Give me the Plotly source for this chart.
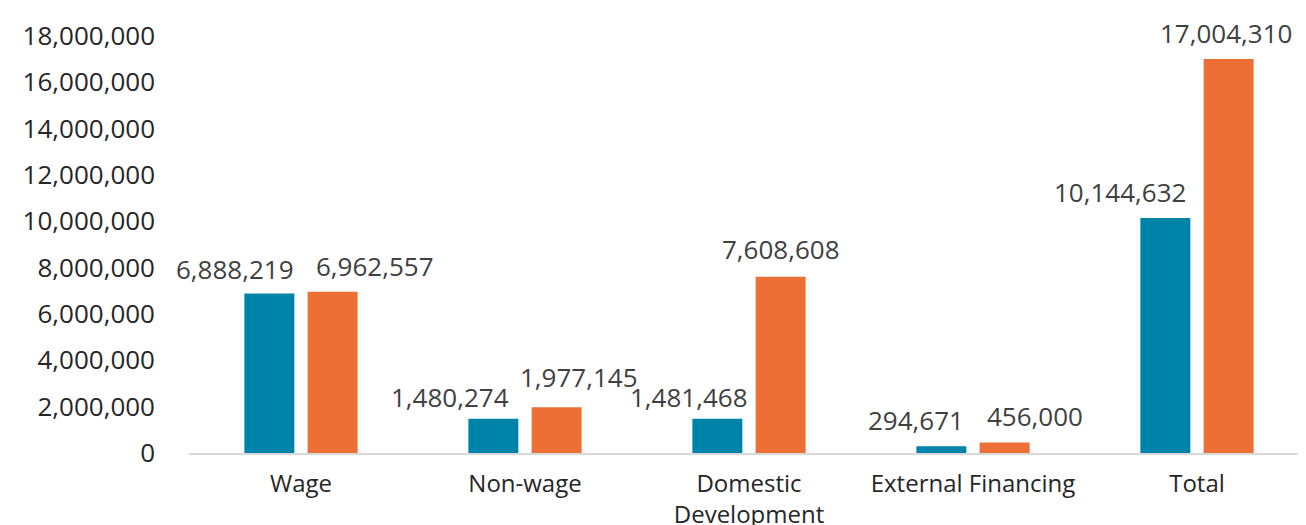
import plotly.graph_objects as go

categories = ["Wage", "Non-wage", "Domestic<br>Development", "External Financing", "Total"]
series_a = [6888219, 1480274, 1481468, 294671, 10144632]
series_b = [6962557, 1977145, 7608608, 456000, 17004310]
y_ticks = [0, 2000000, 4000000, 6000000, 8000000, 10000000, 12000000, 14000000, 16000000, 18000000]

TEAL = "#0083A9"
ORANGE = "#EC7035"
FONT = "Open Sans"

# label horizontal nudges (px) relative to each bar's centre, and vertical gaps
bar_off = 31.7
shift_a = [-34, -43, -28, -25, -45]
shift_b = [42, 22, 0, 30, -3]
gap_a = [4, 2, 2, 6, 6]
gap_b = [6, 10, 8, 6, 6]

fig = go.Figure()
fig.add_trace(go.Bar(x=categories, y=series_a, marker=dict(color=TEAL, line=dict(width=0)), name="A"))
fig.add_trace(go.Bar(x=categories, y=series_b, marker=dict(color=ORANGE, line=dict(width=0)), name="B"))

for i, c in enumerate(categories):
    fig.add_annotation(x=c, y=series_a[i], text=f"{series_a[i]:,}", showarrow=False,
                       xanchor="center", yanchor="bottom", xshift=-bar_off + shift_a[i], yshift=gap_a[i],
                       font=dict(family=FONT, size=26, color="#404040"))
    fig.add_annotation(x=c, y=series_b[i], text=f"{series_b[i]:,}", showarrow=False,
                       xanchor="center", yanchor="bottom", xshift=bar_off + shift_b[i], yshift=gap_b[i],
                       font=dict(family=FONT, size=26, color="#404040"))

fig.update_layout(
    width=1306, height=525,
    margin=dict(l=181, r=5, t=28, b=80),
    paper_bgcolor="white", plot_bgcolor="white",
    barmode="group", bargap=0.435, bargroupgap=0.21,
    showlegend=False,
    font=dict(family=FONT, size=25, color="#262626"),
    xaxis=dict(range=[-0.5, 4.5], showline=True, linecolor="#D9D9D9", linewidth=2, showgrid=False,
               automargin=False, ticks="", ticklabelstandoff=8, tickfont=dict(size=24, color="#262626")),
    yaxis=dict(range=[0, 18000000], tickvals=y_ticks, tickformat=",d", showgrid=False, automargin=False,
               zeroline=False, showline=False, ticks="", ticklabelstandoff=33,
               tickfont=dict(size=26, color="#262626")),
)

fig.write_html("out.html")
